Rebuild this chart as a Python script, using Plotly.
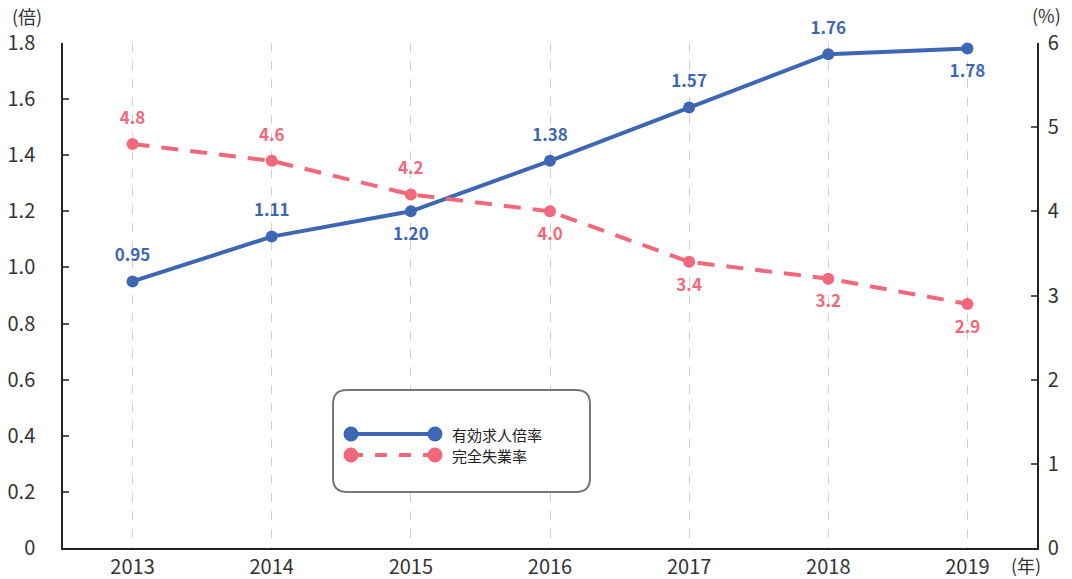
import re
import plotly.graph_objects as go

years = ["2013", "2014", "2015", "2016", "2017", "2018", "2019"]
ratio = [0.95, 1.11, 1.20, 1.38, 1.57, 1.76, 1.78]
unemp = [4.8, 4.6, 4.2, 4.0, 3.4, 3.2, 2.9]
ratio_pos = ["top center", "top center", "bottom center", "top center", "top center", "top center", "bottom center"]
unemp_pos = ["top center", "top center", "top center", "bottom center", "bottom center", "bottom center", "bottom center"]
left_ticks = [0, 0.2, 0.4, 0.6, 0.8, 1.0, 1.2, 1.4, 1.6, 1.8]
left_ticktext = ["0", "0.2", "0.4", "0.6", "0.8", "1.0", "1.2", "1.4", "1.6", "1.8"]
right_ticks = [0, 1, 2, 3, 4, 5, 6]

BLUE = "#3d67b2"
PINK = "#f2687b"
FONT = "Noto Sans CJK JP"
TXT = "#333333"

W, H = 1072, 579
ML, MR, MT, MB = 63, 35, 43, 31

fig = go.Figure()
fig.add_trace(go.Scatter(
    x=years, y=unemp, yaxis="y2", mode="lines+markers",
    line=dict(color=PINK, width=4, dash="17px,12px"),
    marker=dict(size=12, color=PINK),
    cliponaxis=False, showlegend=False,
))
fig.add_trace(go.Scatter(
    x=years, y=ratio, mode="lines+markers",
    line=dict(color=BLUE, width=4),
    marker=dict(size=12, color=BLUE),
    cliponaxis=False, showlegend=False,
))
# data labels (transparent larger markers push labels away from points)
fig.add_trace(go.Scatter(
    x=years, y=unemp, yaxis="y2", mode="markers+text",
    marker=dict(size=24, color="rgba(0,0,0,0)"),
    text=[f"{v:.1f}" for v in unemp], textposition=unemp_pos,
    textfont=dict(color=PINK, size=17, family=FONT, weight="bold"),
    cliponaxis=False, showlegend=False, hoverinfo="skip",
))
fig.add_trace(go.Scatter(
    x=years, y=ratio, mode="markers+text",
    marker=dict(size=24, color="rgba(0,0,0,0)"),
    text=[f"{v:.2f}" for v in ratio], textposition=ratio_pos,
    textfont=dict(color=BLUE, size=17, family=FONT, weight="bold"),
    cliponaxis=False, showlegend=False, hoverinfo="skip",
))

fig.update_layout(
    width=W, height=H,
    margin=dict(l=ML, r=MR, t=MT, b=MB),
    plot_bgcolor="white", paper_bgcolor="white",
    font=dict(family=FONT, color=TXT, size=20),
    xaxis=dict(
        type="category", range=[-0.5, 6.5], automargin=False,
        showgrid=True, gridcolor="#d0d0d0", griddash="dash", gridwidth=1,
        showline=True, linecolor="#222222", linewidth=1.5,
        ticks="", tickfont=dict(size=20, color=TXT), zeroline=False,
    ),
    yaxis=dict(
        range=[0, 1.8], tickvals=left_ticks, ticktext=left_ticktext, automargin=False,
        showgrid=False, zeroline=False,
        showline=True, linecolor="#222222", linewidth=1.5,
        ticks="inside", ticklen=6, tickcolor="#555555", tickwidth=1.5,
        ticklabelstandoff=22,
        tickfont=dict(size=20, color=TXT),
    ),
    yaxis2=dict(
        range=[0, 6], tickvals=right_ticks, overlaying="y", side="right", automargin=False,
        showgrid=False, zeroline=False,
        showline=True, linecolor="#222222", linewidth=1.5,
        ticks="inside", ticklen=6, tickcolor="#555555", tickwidth=1.5,
        ticklabelstandoff=5,
        tickfont=dict(size=20, color=TXT),
    ),
)


def px_to_paper(px, py):
    pw = W - ML - MR
    ph = H - MT - MB
    return (px - ML) / pw, 1 - (py - MT) / ph


def add_px_text(text, px, py, size=19, anchor="left", color=TXT):
    xx, yy = px_to_paper(px, py)
    fig.add_annotation(text=text, xref="paper", yref="paper", x=xx, y=yy,
                       xanchor=anchor, yanchor="middle", showarrow=False,
                       font=dict(size=size, color=color, family=FONT))


# axis unit labels
add_px_text("(倍)", 10, 16, size=18)
add_px_text("(%)", 1030, 15, size=18)
add_px_text("(年)", 1009, 565, size=18)


def conv_path(p):
    toks = re.findall(r"[A-Z]|-?\d+\.?\d*,-?\d+\.?\d*", p)
    out = []
    for t in toks:
        if "," in t:
            a, b = t.split(",")
            xx, yy = px_to_paper(float(a), float(b))
            out.append(f"{xx:.5f},{yy:.5f}")
        else:
            out.append(t)
    return " ".join(out)


# custom legend box (rounded)
x0, x1, y0, y1, r = 333, 590, 390, 492, 14
path = (f"M {x0+r},{y0} L {x1-r},{y0} Q {x1},{y0} {x1},{y0+r} L {x1},{y1-r} Q {x1},{y1} {x1-r},{y1} "
        f"L {x0+r},{y1} Q {x0},{y1} {x0},{y1-r} L {x0},{y0+r} Q {x0},{y0} {x0+r},{y0} Z")
fig.add_shape(type="path", path=conv_path(path), xref="paper", yref="paper",
              line=dict(color="#777777", width=2), fillcolor="white", layer="above")

for (yy, col, dash, label) in [(434, BLUE, "solid", "有効求人倍率"), (455, PINK, "dash", "完全失業率")]:
    ax0, ay = px_to_paper(351, yy)
    ax1, _ = px_to_paper(435, yy)
    fig.add_shape(type="line", x0=ax0, x1=ax1, y0=ay, y1=ay, xref="paper", yref="paper",
                  line=dict(color=col, width=4, dash=dash), layer="above")
    for cx in (351, 435):
        cxp, cyp = px_to_paper(cx, yy)
        rx = 7.5 / (W - ML - MR)
        ry = 7.5 / (H - MT - MB)
        fig.add_shape(type="circle", x0=cxp - rx, x1=cxp + rx, y0=cyp - ry, y1=cyp + ry,
                      xref="paper", yref="paper", fillcolor=col, line=dict(width=0), layer="above")
    add_px_text(label, 450, yy, size=15, color="#222222")

fig.write_html("out.html", config={"displayModeBar": False},
               post_script="document.body.style.margin='0';document.body.style.overflow='hidden';")
